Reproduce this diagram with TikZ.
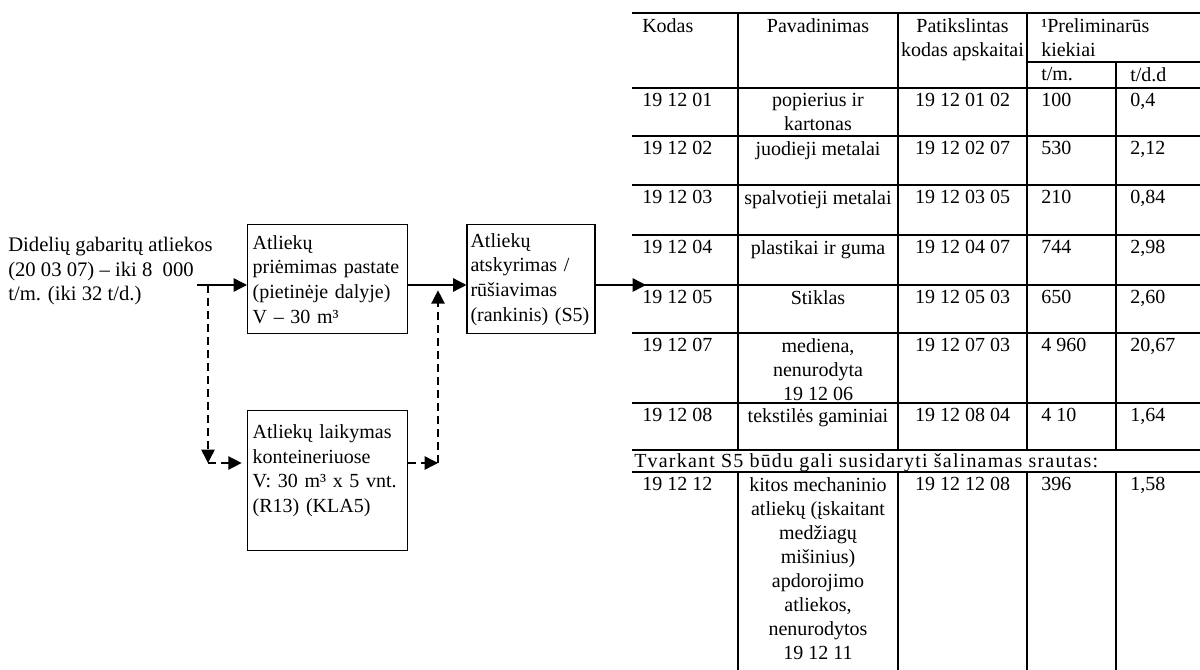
\documentclass[tikz,border=0pt]{standalone}
\usepackage{fontspec}
\setmainfont{Liberation Serif}
\usetikzlibrary{positioning,arrows.meta,calc}
\tikzset{
  txt/.style={font=\fontsize{15pt}{18pt}\selectfont, inner sep=0pt},
  stage/.style={txt, font=\fontsize{15pt}{18.5pt}\selectfont, draw, line width=1.1pt,
                anchor=north west, align=left, inner xsep=3.75pt},
  flow/.style={-{Triangle[length=10pt,width=10pt]}, line width=1.1pt},
  dflow/.style={flow, dash pattern=on 6pt off 3.75pt},
  grid/.style={line width=1.2pt},
  cell/.style={txt, anchor=north west, align=left},
  cellc/.style={txt, anchor=north, align=center}
}
\begin{document}
\begin{tikzpicture}[x=0.75pt,y=-0.75pt]
\useasboundingbox (0,0) rectangle (1200,670);
\node (src) [txt, font=\fontsize{15.5pt}{18.5pt}\selectfont, align=left, anchor=north west] at (8,237) {Didelių gabaritų atliekos\\(20 03 07) – iki 8~~000\\t/m. (iki 32 t/d.)};
\node (recv) [stage, text width=112.5pt, minimum height=81.75pt] at (247,224) {Atliekų\\priėmimas pastate\\(pietinėje dalyje)\\V – 30 m³};
\node (sort) [stage, inner xsep=2.5pt, text width=91pt, minimum height=81.75pt, at={($(recv.north east)+(58,0)$)}] {Atliekų\\atskyrimas /\\rūšiavimas\\(rankinis) (S5)};
\node (store) [stage, text width=112.5pt, minimum height=105pt] at (247,410) {Atliekų laikymas\\konteineriuose\\V: 30 m³ x 5 vnt.\\(R13) (KLA5)\\\mbox{}};
\coordinate (in) at (197,285);
\coordinate (tbl) at (646,285);
\coordinate (dn) at (208,285);
\coordinate (dc) at (208,463);
\coordinate (uc) at (438,463);
\draw[flow] (in) -- (in -| recv.west);
\draw[flow] (in -| recv.east) -- (in -| sort.west);
\draw[flow] (in -| sort.east) -- (tbl);
\draw[dflow] (dn) -- (dc);
\draw[dflow, shorten >=4pt] (dc) -- (dc -| store.west);
\draw[dflow] (dc -| store.east) -- (uc);
\draw[dflow, shorten >=4pt] (uc) -- (uc |- in);
\foreach \ry in {13,88,136,185,235,285,333,403,450,472}
  \draw[grid] (632,\ry) -- (1200,\ry);
\draw[grid] (1027,62) -- (1200,62);
\foreach \rx in {738,898,1027}
  \draw[grid] (\rx,13) -- (\rx,450) (\rx,472) -- (\rx,670);
\draw[grid] (1116,62) -- (1116,450) (1116,472) -- (1116,670);
\node (hkod) [cell] at (642,18) {Kodas};
\node (hpav) [cellc] at (818,18) {Pavadinimas};
\node (hpat) [cellc] at (962.5,18) {Patikslintas\\kodas apskaitai};
\node (hkiek) [cell] at (1041,18) {¹Preliminarūs\\kiekiai};
\node (htm) [cell] at (1041,67) {t/m.};
\node (htd) [cell] at (1130,67) {t/d.d};
\foreach \ry/\kod/\pav/\pat/\tm/\td [count=\i] in {
  88/19 12 01/{popierius ir\\kartonas}/19 12 01 02/100/{0,4},
  136/19 12 02/juodieji metalai/19 12 02 07/530/{2,12},
  185/19 12 03/spalvotieji metalai/19 12 03 05/210/{0,84},
  235/19 12 04/plastikai ir guma/19 12 04 07/744/{2,98},
  285/19 12 05/Stiklas/19 12 05 03/650/{2,60},
  333/19 12 07/{mediena,\\nenurodyta\\19 12 06}/19 12 07 03/4 960/{20,67},
  403/19 12 08/tekstilės gaminiai/19 12 08 04/4 10/{1,64},
  472/19 12 12/{kitos mechaninio\\atliekų (įskaitant\\medžiagų\\mišinius)\\apdorojimo\\atliekos,\\nenurodytos\\19 12 11}/19 12 12 08/396/{1,58}}{
  \node (kod\i) [cell] at (642,\ry+5) {\kod};
  \node (pav\i) [cellc] at (818,\ry+5) {\pav};
  \node (pat\i) [cellc] at (962.5,\ry+5) {\pat};
  \node (tm\i) [cell] at (1041,\ry+5) {\tm};
  \node (td\i) [cell] at (1130,\ry+5) {\td};
}
\node (note) [cell] at (634,453) {\addfontfeatures{LetterSpace=6}Tvarkant S5 būdu gali susidaryti šalinamas srautas:};
\end{tikzpicture}
\end{document}
